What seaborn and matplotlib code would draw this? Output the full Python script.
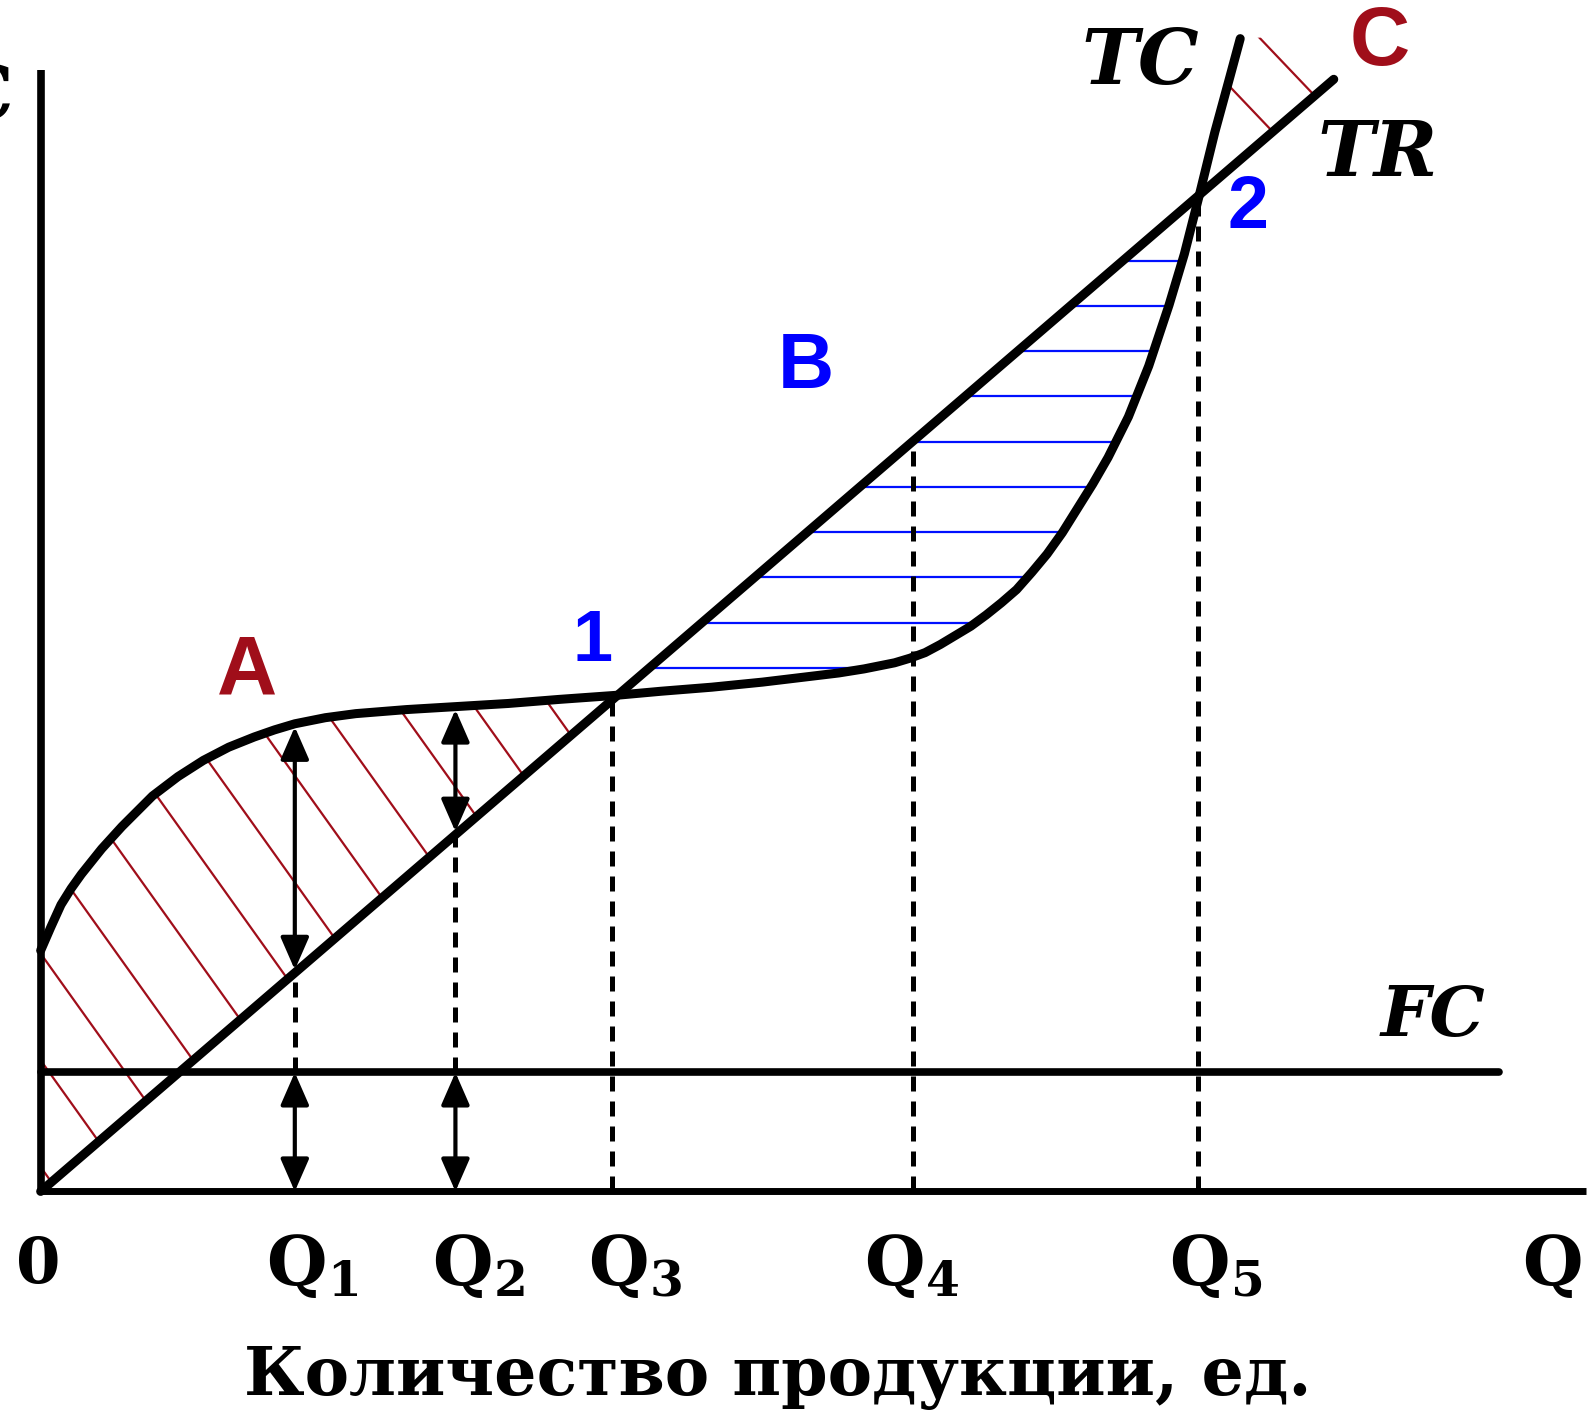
import matplotlib.pyplot as plt
import numpy as np
import seaborn as sns
from matplotlib.collections import LineCollection
from matplotlib.patches import Polygon

sns.set_theme(style='white')
plt.rcParams['font.family'] = ['DejaVu Serif', 'DejaVu Sans']
plt.rcParams['text.color'] = 'black'
plt.rcParams['mathtext.fontset'] = 'custom'
plt.rcParams['mathtext.rm'] = 'DejaVu Serif:bold'
plt.rcParams['mathtext.bf'] = 'DejaVu Serif:bold'
plt.rcParams['mathtext.default'] = 'bf'

# ---- данные (Q по горизонтали, издержки/выручка по вертикали) ----
tc_q = [0.00, 0.10, 0.20, 0.30, 0.40, 0.60, 0.80, 1.10, 1.35, 1.60, 1.85, 2.10, 2.30,
        2.50, 2.80, 3.10, 3.60, 4.10, 4.60, 5.10, 5.66, 6.10, 6.60, 7.10, 7.60, 7.85,
        8.10, 8.25, 8.40, 8.55, 8.70, 8.85, 9.00, 9.15, 9.30, 9.45, 9.60, 9.75, 9.90,
        10.05, 10.20, 10.35, 10.50, 10.70, 10.90, 11.10, 11.25, 11.40, 11.55, 11.70, 11.80]
tc_v = [2.37, 2.60, 2.82, 2.98, 3.12, 3.37, 3.59, 3.89, 4.08, 4.24, 4.37, 4.47, 4.54,
        4.60, 4.66, 4.70, 4.74, 4.77, 4.80, 4.84, 4.88, 4.92, 4.96, 5.01, 5.07, 5.10,
        5.14, 5.17, 5.20, 5.245, 5.30, 5.38, 5.47, 5.56, 5.67, 5.79, 5.92, 6.09, 6.27,
        6.48, 6.72, 6.96, 7.22, 7.62, 8.12, 8.72, 9.22, 9.81, 10.42, 10.97, 11.34]
tr_q = [0.0, 12.72]
tr_v = [0.0, 10.94]
fc_q = [0.0, 14.35]
fc_v = [1.17, 1.17]

q_marks = [2.50, 4.08, 5.62, 8.58, 11.38]
q_labels = ['Q$_1$', 'Q$_2$', 'Q$_3$', 'Q$_4$', 'Q$_5$']
q_label_left = [2.22, 3.85, 5.38, 8.10, 11.10]
point1 = (5.66, 4.88)
point2 = (11.40, 9.81)

RED = '#a00e1a'
BLUE = '#0010ff'

price = tr_v[1] / tr_q[1]


def hatch(ax, verts, segs, color, lw=1.6):
    # линии штриховки, обрезанные по области между кривыми
    patch = Polygon(verts, closed=True, facecolor='none', edgecolor='none',
                    transform=ax.transData)
    ax.add_patch(patch)
    lc = LineCollection(segs, colors=color, linewidths=lw, zorder=1)
    ax.add_collection(lc)
    lc.set_clip_path(patch)


fig = plt.figure(figsize=(15.94, 14.11), dpi=100)
ax = fig.add_axes([0, 0, 1, 1])
ax.set_axis_off()
ax.set_xlim(-0.40, 15.28)
ax.set_ylim(-2.16, 11.72)

tc = np.array(tc_v)
tq = np.array(tc_q)

# область A (убытки): между TC и TR от 0 до точки 1
m = tq <= point1[0]
verts_a = list(zip(tq[m], tc[m])) + [(0.0, 0.0)]
segs_a = []
for k in range(-8, 10):
    x0 = 1.10 + k * 0.75
    segs_a.append([(x0 - 5, 3.95 + 1.4 * 5), (x0 + 5, 3.95 - 1.4 * 5)])
hatch(ax, verts_a, segs_a, RED)

# область B (прибыль): между TR и TC от точки 1 до точки 2
m = (tq >= point1[0]) & (tq <= point2[0])
verts_b = list(zip(tq[m], tc[m]))
segs_b = [[(5.0, y), (12.0, y)] for y in np.arange(5.15, 9.2, 0.445)]
hatch(ax, verts_b, segs_b, BLUE)

# область C: после точки 2
m = tq >= point2[0]
verts_c = list(zip(tq[m], tc[m])) + [(tr_q[1] + 0.05, tr_v[1] + 0.45), (tr_q[1], tr_v[1])]
segs_c = []
for k in (-1, 0):
    x0 = 12.55 + k * 0.75
    segs_c.append([(x0 - 3, 10.76 + 1.05 * 3), (x0 + 3, 10.76 - 1.05 * 3)])
hatch(ax, verts_c, segs_c, RED)

# оси
ax.plot([0, 0], [0, 11.03], color='black', lw=5.5, solid_capstyle='butt', zorder=3)
ax.plot([0, 15.2], [0, 0], color='black', lw=5, solid_capstyle='butt', zorder=3)

# пунктирные вертикали
for i, q in enumerate(q_marks):
    top = price * q
    bottom = fc_v[0] if i < 2 else 0.0
    if i == 2:
        top = point1[1]
    if i == 4:
        top = point2[1]
    ax.plot([q, q], [bottom, top], color='black', lw=3.6, dashes=(3, 2), zorder=2)

# двойные стрелки у Q1 и Q2
arrow = dict(arrowstyle='<|-|>,head_length=0.8,head_width=0.35', lw=3,
             color='black', shrinkA=0, shrinkB=0, mutation_scale=25)
for q in q_marks[:2]:
    tc_at_q = tc[np.argmin(np.abs(tq - q))]
    ax.annotate('', xy=(q, tc_at_q - 0.03), xytext=(q, price * q + 0.03), arrowprops=arrow, zorder=4)
    ax.annotate('', xy=(q, fc_v[0]), xytext=(q, 0.0), arrowprops=arrow, zorder=4)

# кривые
sns.lineplot(x=fc_q, y=fc_v, ax=ax, color='black', lw=5.5, zorder=3)
sns.lineplot(x=tr_q, y=tr_v, ax=ax, color='black', lw=6.5, zorder=3)
sns.lineplot(x=tc_q, y=tc_v, ax=ax, color='black', lw=6.5, zorder=3,
             solid_joinstyle='round', solid_capstyle='round')

# подписи кривых
curve_font = dict(fontfamily='DejaVu Serif', fontweight='bold', fontstyle='italic')
ax.text(10.82, 11.10, 'TC', fontsize=55, ha='center', va='center', **curve_font)
ax.text(13.15, 10.20, 'TR', fontsize=55, ha='center', va='center', **curve_font)
ax.text(13.70, 1.72, 'FC', fontsize=50, ha='center', va='center', **curve_font)
ax.text(-0.27, 10.75, 'C', fontsize=54, ha='right', va='center',
        fontfamily='DejaVu Serif', fontweight='bold')

# цветные метки областей и точек
mark_font = dict(fontfamily='Liberation Sans', fontweight='bold', ha='center', va='center')
ax.text(2.03, 5.10, 'A', fontsize=60, color=RED, **mark_font)
ax.text(13.17, 11.30, 'C', fontsize=60, color=RED, **mark_font)
ax.text(7.53, 8.10, 'B', fontsize=56, color='blue', **mark_font)
ax.text(5.43, 5.40, '1', fontsize=52, color='blue', **mark_font)
ax.text(11.88, 9.67, '2', fontsize=53, color='blue', **mark_font)

# подписи оси Q
ax.text(-0.02, -0.90, '0', fontsize=46, ha='center', va='baseline', fontweight='bold')
for x, lab in zip(q_label_left, q_labels):
    ax.text(x, -0.93, lab, fontsize=50, ha='left', va='baseline', fontweight='bold')
ax.text(14.87, -0.93, 'Q', fontsize=50, ha='center', va='baseline', fontweight='bold')
ax.text(7.25, -1.83, 'Количество продукции, ед.', fontsize=48, ha='center', va='center',
        fontweight='bold')

fig.savefig('out.png', dpi=100)
